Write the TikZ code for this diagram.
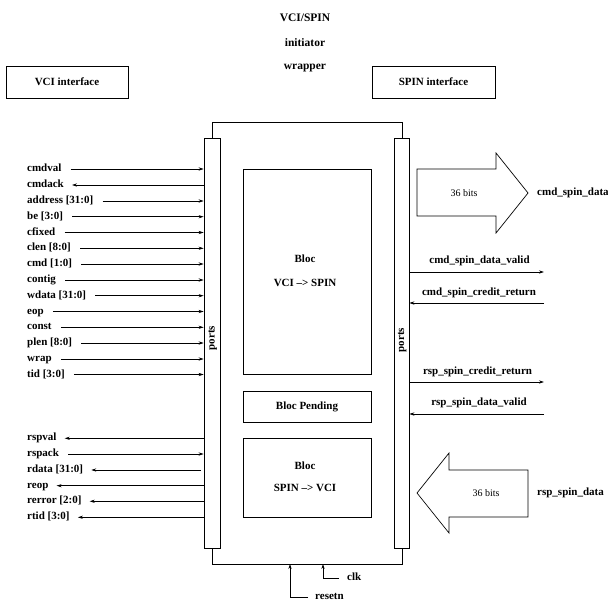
\documentclass[tikz,border=0pt]{standalone}
\usepackage{fontspec}
\setmainfont{Liberation Serif}
\usetikzlibrary{arrows.meta}
\begin{document}
\begin{tikzpicture}[x=1pt,y=-1pt,
  lab/.style={font=\bfseries\fontsize{11}{13}\selectfont, inner sep=1pt, text height=7.5pt, text depth=2.5pt},
  ttl/.style={font=\bfseries\fontsize{11.5}{13}\selectfont, inner sep=1pt},
  box/.style={draw, line width=0.7pt, inner sep=0pt},
  sig/.style={line width=0.7pt},
  sigr/.style={sig, -{Stealth[length=5pt,width=3.2pt]}},
  plain/.style={font=\fontsize{10}{12}\selectfont, inner sep=1pt}
]
\useasboundingbox (0,0) rectangle (608,602);

% titles
\node[ttl] (t1) at (305,18) {VCI/SPIN};
\node[ttl] (t2) at (305,43) {initiator};
\node[ttl] (t3) at (305,68) {wrapper};

\node[box, minimum width=122pt, minimum height=32pt, font=\bfseries\fontsize{11}{13}\selectfont] (vci) at (67,82) {VCI interface};
\node[box, minimum width=123pt, minimum height=32pt, font=\bfseries\fontsize{11}{13}\selectfont] (spin) at (433.5,82) {SPIN interface};

% wrapper
\node[box, minimum width=190pt, minimum height=442pt] (outer) at (307,343) {};
\node[box, fill=white, minimum width=16pt, minimum height=410pt] (lbar) at (212,343) {};
\node[box, fill=white, minimum width=15pt, minimum height=410pt] (rbar) at (401.5,343) {};
\node[lab, rotate=90] (lp) at (212,338) {ports};
\node[lab, rotate=90] (rp) at (401.5,340) {ports};

% blocks
\node[box, minimum width=128pt, minimum height=205pt] (b1) at (307,271.5) {};
\node[lab] (b1a) at (305,260) {Bloc};
\node[lab] (b1b) at (305,284) {VCI –> SPIN};
\node[box, minimum width=128pt, minimum height=31pt, font=\bfseries\fontsize{11}{13}\selectfont] (pend) at (307,406.5) {Bloc Pending};
\node[box, minimum width=128pt, minimum height=79pt] (b2) at (307,477.5) {};
\node[lab] (b2a) at (305,467) {Bloc};
\node[lab] (b2b) at (305,489) {SPIN –> VCI};

% left inputs / outputs
\node[lab, anchor=west] (cmdval) at (26,169) {cmdval};
\node[lab, anchor=west] (cmdack) at (26,185) {cmdack};
\node[lab, anchor=west] (address) at (26,201) {address [31:0]};
\node[lab, anchor=west] (be) at (26,216.7) {be [3:0]};
\node[lab, anchor=west] (cfixed) at (26,232.5) {cfixed};
\node[lab, anchor=west] (clen) at (26,248.3) {clen [8:0]};
\node[lab, anchor=west] (cmd) at (26,264) {cmd [1:0]};
\node[lab, anchor=west] (contig) at (26,280) {contig};
\node[lab, anchor=west] (wdata) at (26,295.7) {wdata [31:0]};
\node[lab, anchor=west] (eop) at (26,311.5) {eop};
\node[lab, anchor=west] (const) at (26,327.3) {const};
\node[lab, anchor=west] (plen) at (26,343) {plen [8:0]};
\node[lab, anchor=west] (wrap) at (26,359) {wrap};
\node[lab, anchor=west] (tid) at (26,374.5) {tid [3:0]};

\draw[sigr] ([xshift=8pt]cmdval.east) -- (cmdval.east -| lbar.west);
\draw[sigr] (cmdack.east -| lbar.west) -- ([xshift=7pt]cmdack.east);
\foreach \n in {address,be,cfixed,clen,cmd,contig,wdata,eop,const,plen,wrap,tid}
  \draw[sigr] ([xshift=8pt]\n.east) -- (\n.east -| lbar.west);

\node[lab, anchor=west] (rspval) at (26,438.3) {rspval};
\node[lab, anchor=west] (rspack) at (26,454) {rspack};
\node[lab, anchor=west] (rdata) at (26,470) {rdata [31:0]};
\node[lab, anchor=west] (reop) at (26,485.7) {reop};
\node[lab, anchor=west] (rerror) at (26,501.3) {rerror [2:0]};
\node[lab, anchor=west] (rtid) at (26,517.3) {rtid [3:0]};

\draw[sigr] (rspval.east -| lbar.west) -- ([xshift=7pt]rspval.east);
\draw[sigr] ([xshift=8pt]rspack.east) -- (rspack.east -| lbar.west);
\draw[sigr] ([xshift=-3pt]rdata.east -| lbar.west) -- ([xshift=7pt]rdata.east);
\draw[sigr] (reop.east -| lbar.west) -- ([xshift=7pt]reop.east);
\draw[sigr] (rerror.east -| lbar.west) -- ([xshift=7pt]rerror.east);
\draw[sigr] (rtid.east -| lbar.west) -- ([xshift=7pt]rtid.east);

% right side signals
\coordinate (e1) at (544,272);
\coordinate (e2) at (544,303);
\coordinate (e3) at (544,382);
\coordinate (e4) at (544,414);
\draw[sigr] (e1 -| rbar.east) -- (e1);
\draw[sigr] (e2) -- (e2 -| rbar.east);
\draw[sigr] (e3 -| rbar.east) -- (e3);
\draw[sigr] (e4) -- (e4 -| rbar.east);
\node[lab] (n1) at (479.5,261) {cmd\_spin\_data\_valid};
\node[lab] (n2) at (479,292.5) {cmd\_spin\_credit\_return};
\node[lab] (n3) at (477.5,371.5) {rsp\_spin\_credit\_return};
\node[lab] (n4) at (479,403) {rsp\_spin\_data\_valid};

% big arrows
\draw[line width=0.7pt] (417,169) -- (496,169) -- (496,153) -- (528,193) -- (496,233) -- (496,216) -- (417,216) -- cycle;
\node[plain] (bits1) at (464,193) {36 bits};
\node[lab, anchor=west] (csd) at (536,193) {cmd\_spin\_data};

\draw[line width=0.7pt] (417,493) -- (449,453) -- (449,470) -- (528,470) -- (528,517) -- (449,517) -- (449,533) -- cycle;
\node[plain] (bits2) at (486,493) {36 bits};
\node[lab, anchor=west] (rsd) at (536,493) {rsp\_spin\_data};

% clk / resetn
\node[lab, anchor=west] (resetn) at (314,597) {resetn};
\node[lab, anchor=west] (clk) at (346,578) {clk};
\coordinate (rsx) at (290,564);
\coordinate (ckx) at (323,564);
\draw[sigr] ([xshift=-6pt]resetn.west) -| (rsx);
\draw[sigr] ([xshift=-7pt]clk.west) -| (ckx);
\end{tikzpicture}
\end{document}
